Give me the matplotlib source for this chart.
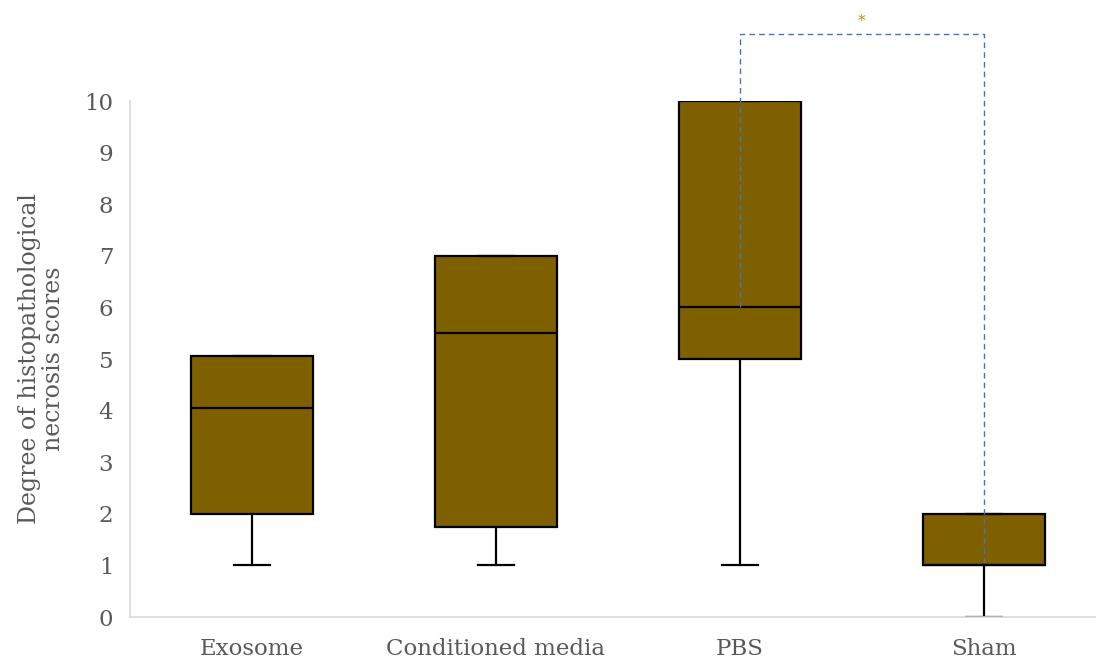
import matplotlib
matplotlib.use('Agg')
import matplotlib.pyplot as plt

# Group summaries (minimum, lower quartile, median, upper quartile, maximum)
groups = ['Exosome', 'Conditioned media', 'PBS', 'Sham']
mins = [1, 1, 1, 0]
q1s = [2, 1.75, 5, 1]
medians = [4.05, 5.5, 6, 1]
q3s = [5.05, 7, 10, 2]
maxs = [5.05, 7, 10, 2]

# Significance bracket between PBS and Sham
sig_pair = (2, 3)
sig_top = 11.3
sig_label = '*'

yticks = list(range(0, 11))

plt.rcParams['font.family'] = ['DejaVu Serif']
text_grey = '#595959'
box_fill = '#7F6000'

figure = plt.figure(figsize=(10.96, 6.63), dpi=100)
ax = figure.add_axes([130 / 1096, 46 / 663, 976 / 1096, 516 / 663])

stats = []
for name, lo, a, m, b, hi in zip(groups, mins, q1s, medians, q3s, maxs):
    stats.append({'label': name, 'whislo': lo, 'q1': a, 'med': m,
                  'q3': b, 'whishi': hi, 'fliers': []})

ax.bxp(
    stats,
    positions=range(len(groups)),
    widths=0.5,
    patch_artist=True,
    showfliers=False,
    boxprops=dict(facecolor=box_fill, edgecolor='black', linewidth=1.6),
    medianprops=dict(color='black', linewidth=1.6),
    whiskerprops=dict(color='black', linewidth=1.6),
    capprops=dict(color='black', linewidth=1.6),
    capwidths=0.15,
    zorder=2,
)

# Dashed significance bracket, legs drop to each group's median
i, j = sig_pair
ax.plot([i, i, j, j], [medians[i], sig_top, sig_top, medians[j]],
        color='#4472C4', linestyle=(0, (4, 3)), linewidth=1.0,
        zorder=3, clip_on=False)
ax.text((i + j) / 2, sig_top + 0.12, sig_label, color='#BF9000',
        fontsize=11, ha='center', va='bottom')

# Axes formatting
ax.set_xlim(-0.5, 3.5)
ax.set_ylim(0, 10)
ax.set_yticks(yticks)
ax.set_yticklabels([str(t) for t in yticks])
ax.set_xticks(range(len(groups)))
ax.set_xticklabels(groups)
ax.tick_params(axis='both', length=0, labelsize=16.5, labelcolor=text_grey)
ax.tick_params(axis='y', pad=12)
ax.tick_params(axis='x', pad=15)

for side in ['top', 'right']:
    ax.spines[side].set_visible(False)
for side in ['left', 'bottom']:
    ax.spines[side].set_color('#D9D9D9')
    ax.spines[side].set_linewidth(1.2)
    ax.spines[side].set_zorder(4)

ax.set_ylabel('Degree of histopathological\nnecrosis scores',
              fontsize=17, color=text_grey, labelpad=14, linespacing=1.05)

figure.savefig('out.png', dpi=100)
